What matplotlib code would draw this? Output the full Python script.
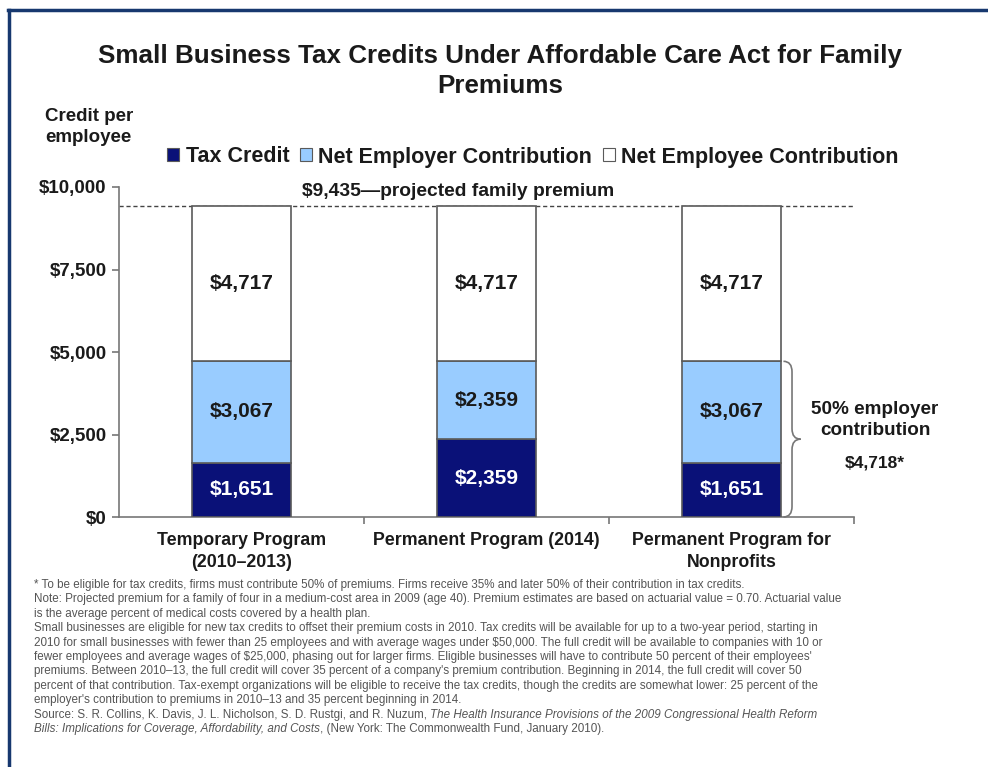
import matplotlib.pyplot as plt
import numpy as np
from matplotlib.lines import Line2D
from matplotlib.patches import Patch, PathPatch
from matplotlib.path import Path

plt.rcParams['font.family'] = ['Liberation Sans', 'DejaVu Sans']

programs = ['Temporary Program\n(2010–2013)', 'Permanent Program (2014)',
            'Permanent Program for\nNonprofits']
tax_credit = np.array([1651, 2359, 1651])
employer = np.array([3067, 2359, 3067])
employee = np.array([4717, 4717, 4717])
premium = 9435
employer_share = 4718

navy = '#0a1178'
light = '#99ccff'
edge = '#5a5a5a'
dark = '#1a1a1a'

fig = plt.figure(figsize=(9.88, 7.67), dpi=100)
ax = fig.add_axes([119 / 988, 1 - 517 / 767, 735 / 988, 330 / 767])

x = np.arange(len(programs))
w = 0.404
b1 = ax.bar(x, tax_credit, w, color=navy, edgecolor=edge, lw=1.2, zorder=3)
b2 = ax.bar(x, employer, w, bottom=tax_credit, color=light, edgecolor=edge,
            lw=1.2, zorder=3)
b3 = ax.bar(x, employee, w, bottom=tax_credit + employer, color='white',
            edgecolor=edge, lw=1.2, zorder=3)

fmt = lambda v: f'${v:,.0f}'
ax.bar_label(b1, labels=[fmt(v) for v in tax_credit], label_type='center',
             color='white', fontsize=15, fontweight='bold')
ax.bar_label(b2, labels=[fmt(v) for v in employer], label_type='center',
             color=dark, fontsize=15, fontweight='bold')
ax.bar_label(b3, labels=[fmt(v) for v in employee], label_type='center',
             color=dark, fontsize=15, fontweight='bold')

# projected premium line
ax.axhline(premium, color='#444444', lw=1, ls=(0, (3, 2)), zorder=1)
ax.text(0.884, premium + 170, f'${premium:,}—projected family premium',
        ha='center', va='bottom', fontsize=13.9, fontweight='bold', color=dark)

ax.set_xlim(-0.5, 2.5)
ax.set_ylim(0, 10000)
ax.set_yticks([0, 2500, 5000, 7500, 10000])
ax.set_yticklabels(['$0', '$2,500', '$5,000', '$7,500', '$10,000'])
ax.set_xticks(x)
ax.set_xticklabels(programs, linespacing=1.35)
ax.set_xticks([0.5, 1.5, 2.5], minor=True)
ax.tick_params(axis='x', which='major', length=0, pad=11, labelsize=12.8,
               labelcolor=dark)
ax.tick_params(axis='x', which='minor', length=5, color='#777777', width=1.2)
ax.tick_params(axis='y', length=5, color='#777777', width=1.2, labelsize=13.5,
               labelcolor=dark, pad=4)
for lab in ax.get_xticklabels() + ax.get_yticklabels():
    lab.set_fontweight('bold')
for s in ('top', 'right'):
    ax.spines[s].set_visible(False)
for s in ('left', 'bottom'):
    ax.spines[s].set_color('#777777')
    ax.spines[s].set_linewidth(1.2)

# curly brace marking the employer's 50% share on the last bar
bx0, bw, r = 2.212, 0.07, 320
ym = employer_share / 2
verts = [(bx0, employer_share),
         (bx0 + bw / 2, employer_share), (bx0 + bw / 2, employer_share - r),
         (bx0 + bw / 2, ym + r),
         (bx0 + bw / 2, ym), (bx0 + bw, ym),
         (bx0 + bw / 2, ym), (bx0 + bw / 2, ym - r),
         (bx0 + bw / 2, r),
         (bx0 + bw / 2, 0), (bx0, 0)]
codes = [Path.MOVETO, Path.CURVE3, Path.CURVE3, Path.LINETO,
         Path.CURVE3, Path.CURVE3, Path.CURVE3, Path.CURVE3,
         Path.LINETO, Path.CURVE3, Path.CURVE3]
ax.add_patch(PathPatch(Path(verts, codes), fill=False, edgecolor='#777777',
                       lw=1.2, clip_on=False))
ax.text(2.586, 2939, '50% employer\ncontribution', ha='center', va='center',
        fontsize=13.6, fontweight='bold', color=dark, linespacing=1.3)
ax.text(2.586, 1636, f'${employer_share:,}*', ha='center', va='center',
        fontsize=12.5, fontweight='bold', color=dark)

fig.text(0.506, 1 - 71 / 767, 'Small Business Tax Credits Under Affordable Care Act for Family\nPremiums',
         ha='center', va='center', fontsize=18.7, fontweight='bold', color=dark,
         linespacing=1.32)
fig.text(45 / 988, 1 - 127 / 767, 'Credit per\nemployee', ha='left', va='center',
         fontsize=13.5, fontweight='bold', color=dark, linespacing=1.3)

handles = [Patch(facecolor=navy, edgecolor=edge, lw=0.8),
           Patch(facecolor=light, edgecolor=edge, lw=0.8),
           Patch(facecolor='white', edgecolor=edge, lw=0.8)]
fig.legend(handles, ['Tax Credit', 'Net Employer Contribution', 'Net Employee Contribution'],
           loc='center', bbox_to_anchor=(533 / 988, 1 - 157 / 767), ncol=3,
           frameon=False, handlelength=0.55, handleheight=0.55, handletextpad=0.3,
           columnspacing=0.5, prop={'weight': 'bold', 'size': 15.5},
           labelcolor=dark)

# footnotes
notes = [
    '* To be eligible for tax credits, firms must contribute 50% of premiums. Firms receive 35% and later 50% of their contribution in tax credits.',
    'Note: Projected premium for a family of four in a medium-cost area in 2009 (age 40). Premium estimates are based on actuarial value = 0.70. Actuarial value',
    'is the average percent of medical costs covered by a health plan.',
    'Small businesses are eligible for new tax credits to offset their premium costs in 2010. Tax credits will be available for up to a two-year period, starting in',
    '2010 for small businesses with fewer than 25 employees and with average wages under $50,000. The full credit will be available to companies with 10 or',
    "fewer employees and average wages of $25,000, phasing out for larger firms. Eligible businesses will have to contribute 50 percent of their employees'",
    "premiums. Between 2010–13, the full credit will cover 35 percent of a company's premium contribution. Beginning in 2014, the full credit will cover 50",
    'percent of that contribution. Tax-exempt organizations will be eligible to receive the tax credits, though the credits are somewhat lower: 25 percent of the',
    "employer's contribution to premiums in 2010–13 and 35 percent beginning in 2014.",
]
note_kw = dict(fontsize=8.35, color='#555555')
fx = 34 / 988
step = 14.4
for i, line in enumerate(notes):
    fig.text(fx, 1 - (579 + i * step) / 767, line, ha='left', va='top', **note_kw)

y10 = 1 - (579 + 9 * step) / 767
t = fig.text(fx, y10, 'Source: S. R. Collins, K. Davis, J. L. Nicholson, S. D. Rustgi, and R. Nuzum, ',
             ha='left', va='top', **note_kw)
ax.annotate('The Health Insurance Provisions of the 2009 Congressional Health Reform',
            xy=(1, 0), xycoords=t, ha='left', va='bottom', style='italic',
            annotation_clip=False, **note_kw)
y11 = 1 - (579 + 10 * step) / 767
t2 = fig.text(fx, y11, 'Bills: Implications for Coverage, Affordability, and Costs',
              ha='left', va='top', style='italic', **note_kw)
ax.annotate(', (New York: The Commonwealth Fund, January 2010).',
            xy=(1, 0), xycoords=t2, ha='left', va='bottom',
            annotation_clip=False, **note_kw)

# frame lines at the top and left edge
fig.add_artist(Line2D([8 / 988, 1], [1 - 10 / 767, 1 - 10 / 767],
                      color='#17386f', lw=2.5))
fig.add_artist(Line2D([9 / 988, 9 / 988], [0, 1 - 10 / 767],
                      color='#17386f', lw=2.5))

fig.savefig('out.png', dpi=100)
